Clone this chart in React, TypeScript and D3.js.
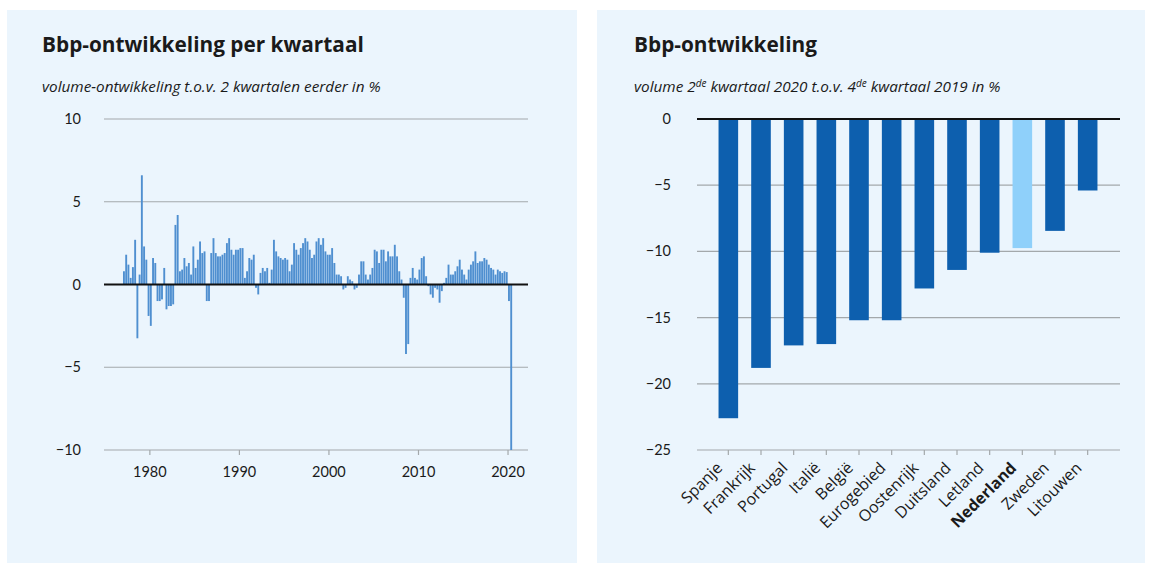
import React from "react";
import * as d3 from "d3";

// ---------- Left chart data: quarterly GDP growth vs 2 quarters earlier (%), from 1977Q1 ----------
const startYear = 1977;
const gdpQuarterly: number[] = [
  0.8, 1.8, 1.2, 0.4, 1.05, 2.7, -3.25, 0.6, 6.6, 2.3,
  1.5, -1.9, -2.5, 1.6, 1.3, -1.0, -1.0, -0.9, 1.0, -1.5,
  -1.3, -1.3, -1.2, 3.6, 4.2, 0.8, 0.9, 1.6, 1.1, 1.3,
  0.6, 2.3, 1.0, 1.5, 2.6, 1.9, 2.0, -1.0, -1.0, 1.9,
  2.8, 1.9, 1.7, 1.7, 1.8, 1.9, 2.5, 2.8, 2.1, 1.8,
  2.1, 2.1, 2.2, 2.2, 0.4, 0.8, 1.6, 1.5, 1.8, -0.2,
  -0.6, 0.7, 1.0, 0.8, 1.0, 0.1, 0.9, 2.7, 2.0, 1.7,
  1.6, 1.5, 1.6, 1.5, 0.8, 1.2, 2.5, 2.1, 1.8, 2.2,
  2.5, 2.8, 2.6, 2.1, 1.6, 1.8, 2.6, 2.8, 2.4, 2.8,
  2.0, 1.8, 1.8, 2.2, 1.3, 0.6, 0.6, 0.5, -0.3, -0.2,
  0.5, 0.3, 0.2, -0.3, -0.2, 0.6, 1.4, 1.4, 0.6, 0.3,
  0.6, 1.0, 2.1, 2.0, 1.3, 2.1, 2.1, 1.4, 2.0, 1.7,
  1.7, 2.4, 1.7, 0.8, 0.3, -0.8, -4.2, -3.6, 0.4, 1.0,
  0.4, 0.3, 0.9, 1.6, 1.7, 0.5, -0.1, -0.6, -0.8, -0.2,
  -0.3, -1.1, -0.4, 0.1, 0.4, 1.2, 0.6, 0.6, 0.8, 1.1,
  1.5, 0.9, 0.6, 0.3, 0.9, 1.2, 1.4, 2.0, 1.3, 1.4,
  1.4, 1.6, 1.5, 1.2, 1.0, 0.9, 0.6, 0.9, 0.8, 0.7,
  0.8, 0.75, -1.0, -10.0,
];
const leftYTicks = [10, 5, 0, -5, -10];
const leftXTicks = [1980, 1990, 2000, 2010, 2020];

// ---------- Right chart data ----------
const countries = [
  "Spanje", "Frankrijk", "Portugal", "Italië", "België", "Eurogebied",
  "Oostenrijk", "Duitsland", "Letland", "Nederland", "Zweden", "Litouwen",
];
const countryValues = [-22.6, -18.8, -17.1, -17.0, -15.2, -15.2, -12.8, -11.4, -10.1, -9.75, -8.45, -5.4];
const highlightCountry = "Nederland";
const rightYTicks = [0, -5, -10, -15, -20, -25];

const W = 1151;
const H = 567;
const PANEL_BG = "#ebf5fd";
const GRID = "#a3a8ab";
const TEXT = "#1a1a1a";
const FONT = "Lato, 'Open Sans', sans-serif";
const TFONT = "'Open Sans', Lato, sans-serif";

export default function App() {
  // Left scales
  const yL = d3.scaleLinear().domain([-10, 10]).range([450, 119]);
  const xL = d3.scaleLinear().domain([startYear, 2020.5]).range([123, 512.5]);
  const qStep = xL(startYear + 0.25) - xL(startYear);

  // Right scales
  const yR = d3.scaleLinear().domain([-25, 0]).range([450, 119]);
  const xR = d3.scaleBand<string>().domain(countries).range([712, 1104]).paddingInner(0.4).paddingOuter(0.2);

  return (
    <svg width={W} height={H} style={{ position: "absolute", left: 0, top: 0, background: "#fff" }}>
      {/* panels */}
      <rect x={7} y={10} width={570} height={553} fill={PANEL_BG} />
      <rect x={597} y={10} width={548} height={553} fill={PANEL_BG} />

      {/* ---------- LEFT ---------- */}
      <text x={42} y={52} fontFamily={TFONT} fontWeight={700} fontSize={20.8} fill={TEXT}>
        Bbp-ontwikkeling per kwartaal
      </text>
      <text x={42} y={92} fontFamily={TFONT} fontStyle="italic" fontSize={15.3} fill={TEXT}>
        volume-ontwikkeling t.o.v. 2 kwartalen eerder in %
      </text>
      {leftYTicks.filter((t) => t !== 0).map((t) => (
        <line key={"gl" + t} x1={104} x2={528} y1={yL(t)} y2={yL(t)} stroke={GRID} strokeWidth={1.2} />
      ))}
      {leftYTicks.map((t) => (
        <text key={"lt" + t} x={81} y={yL(t)} dy="0.35em" textAnchor="end" fontFamily={FONT} fontSize={14.5} fill={TEXT}>
          {t < 0 ? "−" + Math.abs(t) : t}
        </text>
      ))}
      {leftXTicks.map((t) => (
        <g key={"lx" + t}>
          <line x1={xL(t)} x2={xL(t)} y1={450} y2={455} stroke={GRID} strokeWidth={1.2} />
          <text x={xL(t)} y={477} textAnchor="middle" fontFamily={FONT} fontSize={14.5} fill={TEXT}>
            {t}
          </text>
        </g>
      ))}
      {gdpQuarterly.map((v, i) => {
        const x0 = xL(startYear + i / 4);
        return (
          <rect
            key={"b" + i}
            x={x0}
            y={Math.min(yL(v), yL(0))}
            width={qStep - 0.35}
            height={Math.abs(yL(v) - yL(0))}
            fill="#4f8fd0"
          />
        );
      })}
      <line x1={104} x2={528} y1={yL(0)} y2={yL(0)} stroke="#111" strokeWidth={2} />

      {/* ---------- RIGHT ---------- */}
      <text x={634} y={52} fontFamily={TFONT} fontWeight={700} fontSize={20.8} fill={TEXT}>
        Bbp-ontwikkeling
      </text>
      <text x={634} y={92} fontFamily={TFONT} fontStyle="italic" fontSize={15.3} fill={TEXT}>
        volume 2<tspan fontSize={10} dy={-5.5}>de</tspan>
        <tspan dy={5.5}> kwartaal 2020 t.o.v. 4</tspan>
        <tspan fontSize={10} dy={-5.5}>de</tspan>
        <tspan dy={5.5}> kwartaal 2019 in %</tspan>
      </text>
      {rightYTicks.filter((t) => t !== 0).map((t) => (
        <line key={"gr" + t} x1={697} x2={1120} y1={yR(t)} y2={yR(t)} stroke={GRID} strokeWidth={1.2} />
      ))}
      {rightYTicks.map((t) => (
        <text key={"rt" + t} x={671} y={yR(t)} dy="0.35em" textAnchor="end" fontFamily={FONT} fontSize={14.5} fill={TEXT}>
          {t < 0 ? "−" + Math.abs(t) : t}
        </text>
      ))}
      {countries.map((c, i) => {
        const v = countryValues[i];
        const bx = xR(c) as number;
        const cx = bx + xR.bandwidth() / 2;
        return (
          <g key={"c" + c}>
            <rect
              x={bx}
              y={yR(0)}
              width={xR.bandwidth()}
              height={yR(v) - yR(0)}
              fill={c === highlightCountry ? "#8fd0fa" : "#0d5fae"}
            />
            <line x1={cx} x2={cx} y1={450} y2={455} stroke={GRID} strokeWidth={1.2} />
            <text
              transform={`translate(${cx - 5},${469}) rotate(-45)`}
              textAnchor="end"
              fontFamily="'Open Sans', sans-serif"
              fontSize={16}
              fontWeight={c === highlightCountry ? 700 : 400}
              fill={TEXT}
            >
              {c}
            </text>
          </g>
        );
      })}
      <line x1={697} x2={1120} y1={yR(0)} y2={yR(0)} stroke="#111" strokeWidth={2} />
    </svg>
  );
}
